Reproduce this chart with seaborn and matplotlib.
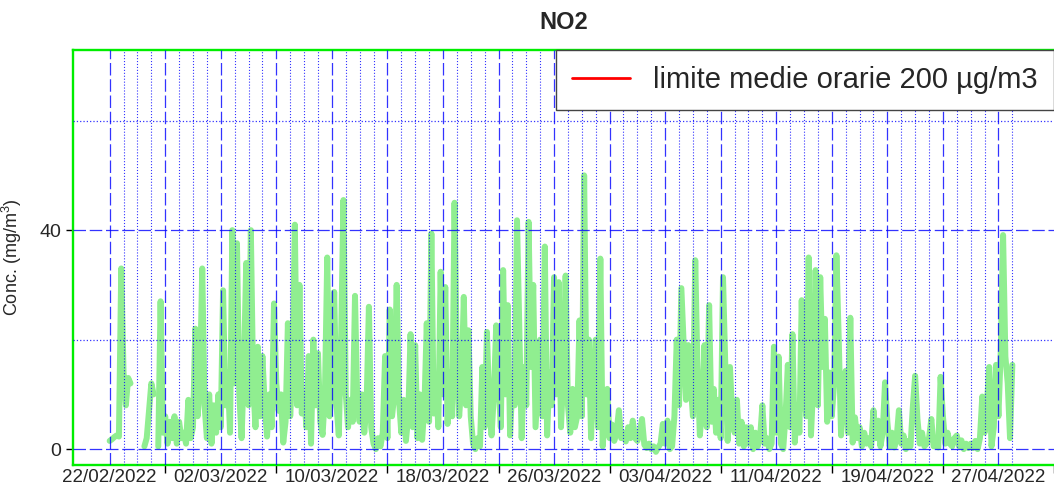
import numpy as np
import pandas as pd
import matplotlib
matplotlib.use('Agg')
import matplotlib.pyplot as plt
import matplotlib.dates as mdates
import seaborn as sns

sns.set_style('white')
plt.rcParams['font.family'] = ['Liberation Sans', 'DejaVu Sans']
plt.rcParams['mathtext.fontset'] = 'custom'
plt.rcParams['mathtext.rm'] = 'Liberation Sans'

nan = np.nan
# NO2, un valore ogni 4 ore, una riga per giorno (22/02/2022 -> 28/04/2022)
no2 = [
    1.5, 1.8, 2.2, 2.5, 2.3, 33,      # 22/02
    14, 8, 13, 12, nan, nan,          # 23/02
    nan, nan, nan, 0.5, 2, 7,         # 24/02
    12, 10, nan, 0.5, 27, 3,          # 25/02
    6, 1, 5, 2, 6, 1,                 # 26/02
    5, 2, 3, 1, 9, 2,                 # 27/02
    4, 22, 6, 12, 33, 8,              # 28/02
    2, 10, 1, 8, 3, 10,               # 01/03
    4, 29, 8, 14, 3, 40,              # 02/03
    12, 37.6, 10, 2, 15, 34,          # 03/03
    8, 40, 12, 4, 18.7, 6,            # 04/03
    17, 8, 2.3, 10, 4, 26.6,          # 05/03
    12, 7, 10, 1.2, 5, 23,            # 06/03
    6, 15, 41, 8, 30, 6.5,            # 07/03
    10, 4, 17, 1, 20, 8,              # 08/03
    17.5, 5, 2.6, 10, 35, 6,          # 09/03
    12, 28.7, 8, 2.5, 20, 45.5,       # 10/03
    10, 4, 9, 5, 28, 8,               # 11/03
    5, 10, 3, 8, 26, 4,               # 12/03
    1, 0, 2, 0.5, 3, 17,              # 13/03
    2, 25.5, 6, 10, 30, 9,            # 14/03
    3, 9, 1.5, 6, 21, 4,              # 15/03
    19, 2, 10, 1.7, 8, 23,            # 16/03
    5, 39.4, 6.5, 12, 4, 32.4,        # 17/03
    10, 29.6, 4.6, 14, 6, 45,         # 18/03
    16, 6, 12, 27.8, 8, 21.7,         # 19/03
    6, 1, 0, 2, 0.5, 15,              # 20/03
    4, 21.4, 8, 2.5, 10, 22.6,        # 21/03
    12, 4, 32.7, 10, 26.3, 2.5,       # 22/03
    12, 8, 41.8, 22, 2, 15,           # 23/03
    8, 41.5, 15, 30, 4, 12,           # 24/03
    20, 6, 37, 2.5, 14, 8,            # 25/03
    31.4, 10, 30.5, 4, 14, 31.7,      # 26/03
    8, 3, 11, 4, 6, 23.5,             # 27/03
    6, 50, 10, 20, 2, 14,             # 28/03
    20, 4, 34.8, 0.5, 6, 11,          # 29/03
    2, 4.5, 1.5, 3, 7.1, 2,           # 30/03
    3, 1.4, 4, 2, 5.2, 2,             # 31/03
    1.5, 3, 5.5, 0.8, 0.2, 1,         # 01/04
    0, 0.5, -0.5, 0.3, 1, 4.6,        # 02/04
    1, 5.2, 0, 0.5, 6, 20,            # 03/04
    8, 29.4, 19.3, 9, 19, 12,         # 04/04
    6, 34.5, 14, 2.5, 8, 19,          # 05/04
    4, 26.3, 5, 11, 3, 9,             # 06/04
    2, 31.4, 15, 1.5, 15, 6,          # 07/04
    3, 9, 1, 5, 0.5, 4,               # 08/04
    1, 4, 0, 3, 0.5, 2,               # 09/04
    8, 1, 2, 0, 1, 18.7,              # 10/04
    3, 16.9, 1, 0, 6, 15.4,           # 11/04
    4, 21, 1.2, 8, 3, 27.2,           # 12/04
    10, 6, 35, 2.5, 12, 32.7,         # 13/04
    8, 31.4, 15, 23.8, 5, 14,         # 14/04
    6, 12, 35.4, 20, 2.5, 10,         # 15/04
    14.3, 3, 24, 1.2, 5.8, 2,         # 16/04
    4, 0.5, 3, 1, 2, 0.5,             # 17/04
    7.1, 2, 5.2, 0.5, 3, 12.2,        # 18/04
    5, 0.5, 3, 0.3, 2, 7.1,           # 19/04
    1, 2.5, 0, 1.5, 0.5, 7.7,         # 20/04
    13.4, 5.5, 1, 3, 0.5, 1,          # 21/04
    2, 5.5, 0.5, 2, 0.3, 13.2,        # 22/04
    6.1, 1, 3, 1, 0.5, 2,             # 23/04
    2.5, 0.5, 1.6, 0, 1, 0.2,         # 24/04
    1, 0.2, 1.5, 0, 2, 9.6,           # 25/04
    3, 8, 15, 0.5, 4, 15.4,           # 26/04
    6, 18, 39.1, 16.9, 12, 2,         # 27/04
    15.4,                             # 28/04
]
start = '2022-02-22'
end = '2022-04-28'
limite = 200
limite_label = 'limite medie orarie 200 µg/m3'
label_dates = ['2022-02-22', '2022-03-02', '2022-03-10', '2022-03-18', '2022-03-26',
               '2022-04-03', '2022-04-11', '2022-04-19', '2022-04-27']
y_ticks = [0, 40]

times = pd.date_range(start, periods=len(no2), freq='4h')
df = pd.DataFrame({'time': times, 'no2': no2})
df['seg'] = df['no2'].isna().cumsum()
df = df.dropna()

fig = plt.figure(figsize=(10.54, 4.87), dpi=100)
ax = fig.add_axes([73/1054, 22/487, 981/1054, 415/487])

sns.lineplot(data=df, x='time', y='no2', units='seg', estimator=None, ax=ax,
             color='#90ee90', lw=4.3, zorder=2,
             solid_capstyle='round', solid_joinstyle='round')
ax.axhline(limite, color='red', lw=2, label=limite_label)

# griglia
t0 = pd.Timestamp(start)
days = pd.date_range(start, end, freq='D')
for i, d in enumerate(days):
    if i % 4 == 0:
        ax.axvline(d, color='blue', lw=0.9, ls=(0, (10, 3)), alpha=0.8, zorder=3)
    else:
        ax.axvline(d, color='blue', lw=0.8, ls=':', alpha=0.8, zorder=3)
for yv, st in [(0, (0, (10, 3))), (20, ':'), (40, (0, (10, 3))), (60, ':')]:
    ax.axhline(yv, color='blue', lw=0.9, ls=st, alpha=0.8, zorder=3)

ax.set_ylim(-2.9, 72.9)
ax.set_xlim(t0 - pd.Timedelta(days=2.64), t0 + pd.Timedelta(days=67.43))

ax.set_yticks(y_ticks)
ax.set_xticks(pd.to_datetime(label_dates))
ax.set_xticks(pd.to_datetime(label_dates) + pd.Timedelta(days=4), minor=True)
ax.xaxis.set_major_formatter(mdates.DateFormatter('%d/%m/%Y'))
ax.tick_params(axis='x', which='major', length=0, labelsize=13.5, pad=3)
ax.tick_params(axis='x', which='minor', length=6, width=1, color='black', bottom=True)
ax.tick_params(axis='y', length=5, width=1, color='black', labelsize=14, left=True)

for s in ['left', 'top', 'bottom']:
    ax.spines[s].set_color('#00ee00')
    ax.spines[s].set_linewidth(1.7)
ax.spines['right'].set_visible(False)

ax.set_xlabel('')
ax.set_ylabel('Conc. (mg/m$^3$)', fontsize=13)
ax.yaxis.set_label_coords(-0.05, 0.5)
ax.set_title('NO2', fontsize=17, fontweight='bold', pad=15)

ax.legend(loc='upper right', bbox_to_anchor=(1.0, 1.0), borderaxespad=0,
          fancybox=False, edgecolor='#444444', framealpha=1, fontsize=21,
          handlelength=2.0, handletextpad=0.8, borderpad=0.55)

fig.savefig('out.png', dpi=100)
